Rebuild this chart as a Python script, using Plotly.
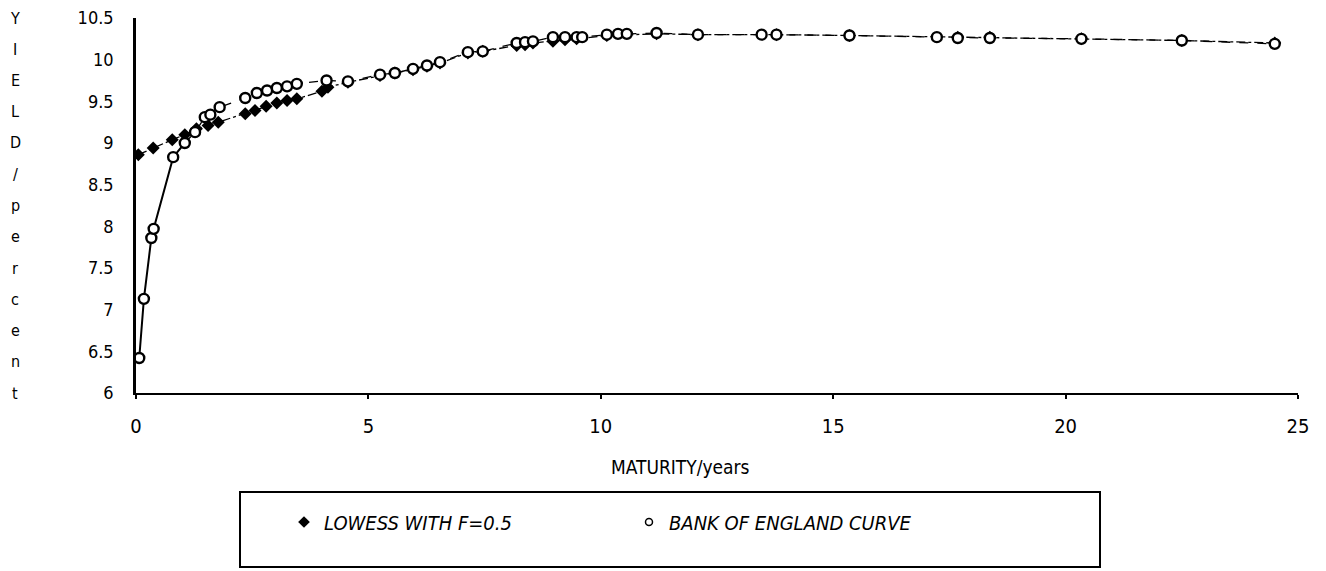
import plotly.graph_objects as go

# ---- data ----
boe_maturity = [0.07, 0.17, 0.33, 0.38, 0.8, 1.05, 1.27, 1.48, 1.6, 1.8, 2.35, 2.6, 2.82,
                3.03, 3.25, 3.46, 4.1, 4.56, 5.25, 5.57, 5.96, 6.26, 6.54, 7.14, 7.46,
                8.19, 8.37, 8.54, 8.97, 9.23, 9.48, 9.6, 10.13, 10.37, 10.56, 11.2,
                12.09, 13.46, 13.78, 15.35, 17.23, 17.68, 18.37, 20.34, 22.5, 24.5]
boe_yield = [6.42, 7.13, 7.86, 7.97, 8.83, 9.0, 9.13, 9.31, 9.34, 9.43, 9.54, 9.6, 9.63,
             9.66, 9.68, 9.71, 9.75, 9.74, 9.82, 9.84, 9.89, 9.93, 9.97, 10.09, 10.1,
             10.2, 10.21, 10.22, 10.27, 10.27, 10.27, 10.27, 10.3, 10.31, 10.31, 10.32,
             10.3, 10.3, 10.3, 10.29, 10.27, 10.26, 10.26, 10.25, 10.23, 10.19]

lowess_maturity = [0.05, 0.37, 0.78, 1.05, 1.3, 1.55, 1.77, 2.35, 2.56, 2.8, 3.03, 3.25,
                   3.46, 4.0, 4.13, 4.56, 5.25, 5.57, 5.96, 6.26, 6.54, 7.14, 7.46, 8.19,
                   8.37, 8.54, 8.97, 9.23, 9.48, 10.13, 11.2, 12.09, 13.78, 15.35, 17.68,
                   18.37, 20.34, 22.5, 24.5]
lowess_yield = [8.86, 8.94, 9.04, 9.1, 9.17, 9.21, 9.25, 9.35, 9.39, 9.44, 9.48, 9.51,
                9.53, 9.62, 9.67, 9.73, 9.81, 9.84, 9.88, 9.92, 9.96, 10.08, 10.1, 10.17,
                10.18, 10.2, 10.22, 10.24, 10.25, 10.29, 10.31, 10.3, 10.3, 10.29, 10.27,
                10.27, 10.25, 10.23, 10.2]

x_ticks = [0, 5, 10, 15, 20, 25]
y_ticks = [6, 6.5, 7, 7.5, 8, 8.5, 9, 9.5, 10, 10.5]
y_tick_labels = ["6", "6.5", "7", "7.5", "8", "8.5", "9", "9.5", "10", "10.5"]

series_names = ["LOWESS WITH F=0.5", "BANK OF ENGLAND CURVE"]
x_title = "MATURITY/years"
y_title = "YIELD/percent"

FONT = "DejaVu Sans Condensed, Liberation Sans Narrow, Liberation Sans, Arial, sans-serif"
SOLID_UNTIL = 6  # BoE line is solid over the short end, dashed afterwards

fig = go.Figure()

fig.add_trace(go.Scatter(
    x=lowess_maturity, y=lowess_yield, mode="lines+markers",
    line=dict(color="black", width=1.3, dash="dashdot"),
    marker=dict(symbol="diamond", size=10, color="black"),
    showlegend=False))

fig.add_trace(go.Scatter(
    x=boe_maturity[:SOLID_UNTIL], y=boe_yield[:SOLID_UNTIL], mode="lines",
    line=dict(color="black", width=2), showlegend=False))
fig.add_trace(go.Scatter(
    x=boe_maturity[SOLID_UNTIL - 1:], y=boe_yield[SOLID_UNTIL - 1:], mode="lines",
    line=dict(color="black", width=1.3, dash="dash"), showlegend=False))
fig.add_trace(go.Scatter(
    x=boe_maturity, y=boe_yield, mode="markers",
    marker=dict(symbol="circle", size=10, color="white",
                line=dict(color="black", width=2.4)),
    showlegend=False))

fig.add_trace(go.Scatter(x=[None], y=[None], mode="markers", name=series_names[0],
                         marker=dict(symbol="diamond", size=9, color="black")))
fig.add_trace(go.Scatter(x=[None], y=[None], mode="markers", name=series_names[1],
                         marker=dict(symbol="circle-open", size=7, color="black",
                                     line=dict(width=1.5))))

# page body has an 8px margin: lay out in screen pixels, then shift
OFF = 8
SW, SH = 1326, 571
PL, PR, PT, PB = 136, 1298, 18, 393   # plot area on screen
W, H = SW - OFF, SH - OFF
L, T = PL - OFF, PT - OFF
R = W - (PR - OFF)
B = H - (PB - OFF)
pw, ph = PR - PL, PB - PT

def px_x(p):
    return (p - PL) / pw

def px_y(p):
    return (PB - p) / ph

annotations = []
for i, ch in enumerate(y_title):
    annotations.append(dict(text=ch, xref="paper", yref="paper",
                            x=px_x(15), y=1 - i / (len(y_title) - 1),
                            showarrow=False, xanchor="center", yanchor="middle",
                            font=dict(family=FONT, size=16, color="black")))
annotations.append(dict(text=x_title, xref="paper", yref="paper",
                        x=px_x(680), y=px_y(467), showarrow=False,
                        xanchor="center", yanchor="middle",
                        font=dict(family=FONT, size=19, color="black")))

fig.update_layout(
    width=W, height=H,
    margin=dict(l=L, r=R, t=T, b=B, autoexpand=False),
    paper_bgcolor="white", plot_bgcolor="white",
    font=dict(family=FONT, size=19, color="black"),
    xaxis=dict(range=[0, 25], tickvals=x_ticks, showgrid=False, zeroline=False,
               showline=True, linecolor="black", linewidth=2,
               ticks="outside", ticklen=4, tickwidth=1.5, tickcolor="black",
               ticklabelstandoff=10, tickfont=dict(size=20), automargin=False),
    yaxis=dict(range=[6, 10.5], tickvals=y_ticks, ticktext=y_tick_labels,
               showgrid=False, zeroline=False,
               showline=True, linecolor="black", linewidth=2.5,
               ticks="", ticklabelstandoff=16, tickfont=dict(size=18),
               ticklabeloverflow="allow", automargin=False),
    showlegend=True,
    legend=dict(orientation="h", x=px_x(284), y=px_y(522),
                xanchor="left", yanchor="middle",
                entrywidth=300, entrywidthmode="pixels",
                bgcolor="rgba(0,0,0,0)",
                font=dict(family=FONT, size=20, style="italic", color="black")),
    annotations=annotations,
    shapes=[dict(type="rect", xref="paper", yref="paper",
                 x0=px_x(240), x1=px_x(1100), y0=px_y(567), y1=px_y(492),
                 line=dict(color="black", width=2), fillcolor="rgba(0,0,0,0)")],
)

fig.write_html("out.html")
